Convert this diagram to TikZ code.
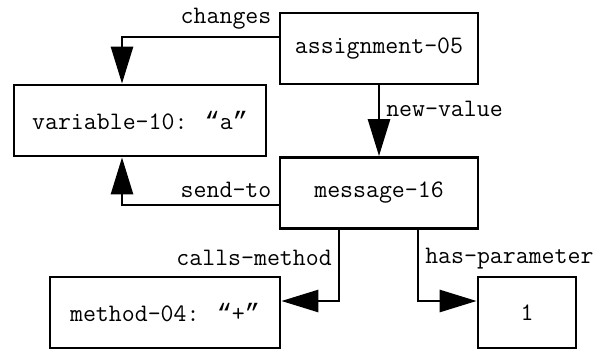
\documentclass[tikz,border=0pt]{standalone}
\usepackage{fontspec}
\newfontfamily\quotefont{Liberation Mono}
\newcommand{\openq}{{\quotefont “}}
\newcommand{\closeq}{{\quotefont ”}}
\usetikzlibrary{arrows.meta}

\begin{document}
\begin{tikzpicture}[auto, >={Triangle[length=0.74cm, width=0.44cm]}, line width = 1.6pt, font = \ttfamily\fontsize{14.3}{17}\selectfont]
    \tikzstyle{block} = [draw, shape = rectangle, inner sep = 1pt, minimum height = 1.42cm]
    \useasboundingbox (0,0) rectangle (12.16,-7.04);

    \node[block, minimum width = 3.96cm] (assign) at (7.58,-0.97) {assignment-05};
    \node[block, minimum width = 5.04cm] (var) at (2.80,-2.41) {variable-10: \openq a\closeq};
    \node[block, minimum width = 3.96cm] (msg) [below of = assign, node distance = 2.89cm] {message-16};
    \node[block, minimum width = 4.60cm] (method) at (3.30,-6.25) {method-04: \openq +\closeq};
    \node[block, minimum width = 1.96cm] (one) [right of = method, node distance = 7.24cm] {1};

    \draw[->] ([yshift = 0.23cm]assign.west) -| node[pos = 0, above left] {changes} ([xshift = -0.36cm]var.north);
    \draw[->] (assign) -- node[pos = 0.33, right] {new-value} (msg);
    \draw[->] ([yshift = -0.24cm]msg.west) -| node[pos = 0, above left] {send-to} ([xshift = -0.36cm]var.south);
    \draw[->] ([xshift = -0.80cm]msg.south) |- node[pos = 0.2, left] {calls-method} ([yshift = 0.23cm]method.east);
    \draw[->] ([xshift = 0.78cm]msg.south) |- node[pos = 0.2, right] {has-parameter} ([yshift = 0.23cm]one.west);
\end{tikzpicture}
\end{document}
